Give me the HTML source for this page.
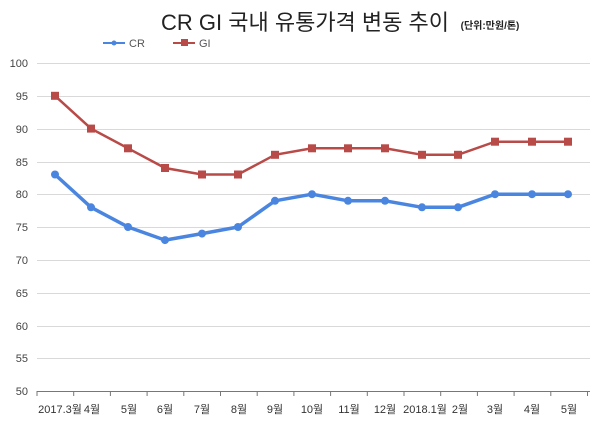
<!DOCTYPE html><html><head><meta charset="utf-8"><style>body{margin:0;background:#fff}</style></head><body>
<svg width="600" height="429" xmlns="http://www.w3.org/2000/svg" font-family="'Liberation Sans','Noto Sans CJK KR',sans-serif">
<text x="305" y="30" font-size="22" text-anchor="middle" fill="#222">CR GI 국내 유통가격 변동 추이</text>
<text x="490" y="29" font-size="10" text-anchor="middle" fill="#222" font-weight="bold">(단위:만원/톤)</text>
<line x1="103" y1="43" x2="125" y2="43" stroke="#4a86e0" stroke-width="2"/><circle cx="114" cy="43" r="2.5" fill="#4a86e0"/>
<text x="129" y="47" font-size="11" fill="#555">CR</text>
<line x1="173" y1="43" x2="195" y2="43" stroke="#b84a48" stroke-width="2"/><rect x="181" y="39" width="7" height="7" fill="#b84a48"/>
<text x="199" y="47" font-size="11" fill="#555">GI</text>
<g stroke="#d9d9d9" stroke-width="1">
<line x1="37" y1="63.5" x2="590" y2="63.5"/><line x1="37" y1="96.5" x2="590" y2="96.5"/><line x1="37" y1="129.5" x2="590" y2="129.5"/><line x1="37" y1="162.5" x2="590" y2="162.5"/><line x1="37" y1="194.5" x2="590" y2="194.5"/><line x1="37" y1="227.5" x2="590" y2="227.5"/><line x1="37" y1="260.5" x2="590" y2="260.5"/><line x1="37" y1="293.5" x2="590" y2="293.5"/><line x1="37" y1="326.5" x2="590" y2="326.5"/><line x1="37" y1="358.5" x2="590" y2="358.5"/>
</g>
<line x1="37" y1="391.5" x2="590" y2="391.5" stroke="#777"/>
<g font-size="11" fill="#444" text-anchor="end">
<text x="28" y="67">100</text><text x="28" y="100">95</text><text x="28" y="133">90</text><text x="28" y="166">85</text><text x="28" y="198">80</text><text x="28" y="231">75</text><text x="28" y="264">70</text><text x="28" y="297">65</text><text x="28" y="330">60</text><text x="28" y="362">55</text><text x="28" y="395">50</text>
</g>
<g stroke="#777">
<line x1="37" y1="391" x2="37" y2="396"/><line x1="73.7" y1="391" x2="73.7" y2="396"/><line x1="110.4" y1="391" x2="110.4" y2="396"/><line x1="147.1" y1="391" x2="147.1" y2="396"/><line x1="183.8" y1="391" x2="183.8" y2="396"/><line x1="220.5" y1="391" x2="220.5" y2="396"/><line x1="257.2" y1="391" x2="257.2" y2="396"/><line x1="293.9" y1="391" x2="293.9" y2="396"/><line x1="330.6" y1="391" x2="330.6" y2="396"/><line x1="367.3" y1="391" x2="367.3" y2="396"/><line x1="404" y1="391" x2="404" y2="396"/><line x1="440.7" y1="391" x2="440.7" y2="396"/><line x1="477.4" y1="391" x2="477.4" y2="396"/><line x1="514.1" y1="391" x2="514.1" y2="396"/><line x1="550.8" y1="391" x2="550.8" y2="396"/><line x1="587.5" y1="391" x2="587.5" y2="396"/>
</g>
<g font-size="11" fill="#333" text-anchor="middle">
<text x="60" y="413">2017.3월</text><text x="92" y="413">4월</text><text x="129" y="413">5월</text><text x="165" y="413">6월</text><text x="202" y="413">7월</text><text x="239" y="413">8월</text><text x="275" y="413">9월</text><text x="312" y="413">10월</text><text x="349" y="413">11월</text><text x="385" y="413">12월</text><text x="425" y="413">2018.1월</text><text x="460" y="413">2월</text><text x="495" y="413">3월</text><text x="532" y="413">4월</text><text x="569" y="413">5월</text>
</g>
<polyline fill="none" stroke="#4a86e0" stroke-width="3.5" stroke-linejoin="round" points="55,174.5 91,207.3 128,227 165,240.1 202,233.6 238,227 275,200.8 312,194.2 348,200.8 385,200.8 422,207.3 458,207.3 495,194.2 532,194.2 568,194.2"/>
<g fill="#4a86e0"><circle cx="55" cy="174.5" r="4"/><circle cx="91" cy="207.3" r="4"/><circle cx="128" cy="227" r="4"/><circle cx="165" cy="240.1" r="4"/><circle cx="202" cy="233.6" r="4"/><circle cx="238" cy="227" r="4"/><circle cx="275" cy="200.8" r="4"/><circle cx="312" cy="194.2" r="4"/><circle cx="348" cy="200.8" r="4"/><circle cx="385" cy="200.8" r="4"/><circle cx="422" cy="207.3" r="4"/><circle cx="458" cy="207.3" r="4"/><circle cx="495" cy="194.2" r="4"/><circle cx="532" cy="194.2" r="4"/><circle cx="568" cy="194.2" r="4"/></g>
<polyline fill="none" stroke="#b84a48" stroke-width="2.5" points="55,95.8 91,128.6 128,148.3 165,168 202,174.5 238,174.5 275,154.8 312,148.3 348,148.3 385,148.3 422,154.8 458,154.8 495,141.7 532,141.7 568,141.7"/>
<g fill="#b84a48"><rect x="51" y="91.8" width="8" height="8"/><rect x="87" y="124.6" width="8" height="8"/><rect x="124" y="144.3" width="8" height="8"/><rect x="161" y="164" width="8" height="8"/><rect x="198" y="170.5" width="8" height="8"/><rect x="234" y="170.5" width="8" height="8"/><rect x="271" y="150.8" width="8" height="8"/><rect x="308" y="144.3" width="8" height="8"/><rect x="344" y="144.3" width="8" height="8"/><rect x="381" y="144.3" width="8" height="8"/><rect x="418" y="150.8" width="8" height="8"/><rect x="454" y="150.8" width="8" height="8"/><rect x="491" y="137.7" width="8" height="8"/><rect x="528" y="137.7" width="8" height="8"/><rect x="564" y="137.7" width="8" height="8"/></g>
</svg></body></html>
